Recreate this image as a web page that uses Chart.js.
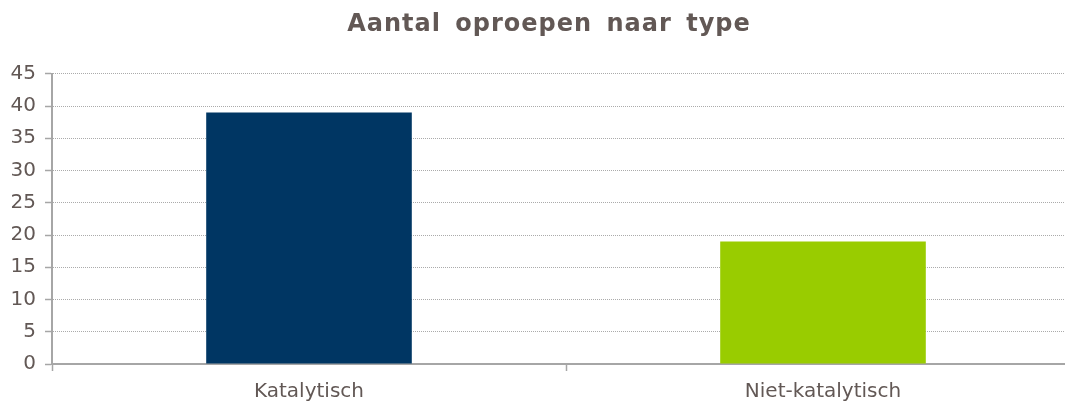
<!DOCTYPE html>
<html>
<head>
<meta charset="utf-8">
<script src="https://cdn.jsdelivr.net/npm/chart.js@4"></script>
<style>
    html, body { margin: 0; padding: 0; background: #fff; overflow: hidden; }
    #wrap { width: 1065px; height: 407px; overflow: hidden; }
</style>
</head>
<body>
<div id="wrap"><canvas id="typeChart" width="1098" height="407"></canvas></div>
<script>
// Aantal oproepen naar type - Bar Chart
const categories = ['Katalytisch', 'Niet-katalytisch'];
const oproepen = [39, 19];
const barColors = ['#003663', '#99cc00'];
const yTicks = [0, 5, 10, 15, 20, 25, 30, 35, 40, 45];

const textColor = '#625855';
const font = 'Verdana, "DejaVu Sans", sans-serif';

// wider letter/word spacing for the title, like the original
const titleSpacing = {
    id: 'titleSpacing',
    afterInit(chart) {
        const block = chart.titleBlock;
        const draw = block.draw;
        block.draw = function () {
            const ctx = chart.ctx;
            ctx.save();
            ctx.translate(9, 0); // title sits a little right of the plot centre
            ctx.letterSpacing = '1px';
            ctx.wordSpacing = '5px';
            draw.apply(this, arguments);
            ctx.restore();
        };
    }
};

// the plot runs a bit past the right edge of the picture, so the canvas is wider than the page
const typeCtx = document.getElementById('typeChart').getContext('2d');
const typeChart = new Chart(typeCtx, {
    type: 'bar',
    data: {
        labels: categories,
        datasets: [{
            data: oproepen,
            backgroundColor: barColors,
            categoryPercentage: 1,
            barPercentage: 0.4
        }]
    },
    options: {
        responsive: false,
        animation: false,
        layout: { padding: { left: 0, right: 18, top: 0, bottom: 0 } },
        plugins: {
            legend: { display: false },
            tooltip: { enabled: false },
            title: {
                display: true,
                text: 'Aantal oproepen naar type',
                color: textColor,
                font: { family: font, size: 24, weight: 'bold' },
                padding: { top: 10, bottom: 35 }
            }
        },
        scales: {
            x: {
                grid: {
                    display: true,
                    drawOnChartArea: false,
                    drawTicks: true,
                    offset: true,
                    tickLength: 7,
                    tickColor: '#a6a6a6',
                    tickWidth: 1.5
                },
                border: { display: true, color: '#a6a6a6', width: 2 },
                ticks: {
                    color: textColor,
                    font: { family: font, size: 20 },
                    padding: 9
                },
                afterFit: (scale) => { scale.height = 43; }
            },
            y: {
                min: 0,
                max: 45,
                afterBuildTicks: (scale) => { scale.ticks = yTicks.map(v => ({ value: v })); },
                grid: {
                    color: '#ababab',
                    lineWidth: 1,
                    tickColor: '#a6a6a6',
                    tickLength: 7,
                    tickWidth: 1.5,
                    tickBorderDash: []
                },
                border: { display: true, color: '#a6a6a6', width: 2, dash: [1, 1] },
                ticks: {
                    color: textColor,
                    font: { family: font, size: 20 },
                    padding: 9
                },
                afterFit: (scale) => { scale.width = 52; }
            }
        }
    },
    plugins: [titleSpacing]
});
</script>
</body>
</html>
